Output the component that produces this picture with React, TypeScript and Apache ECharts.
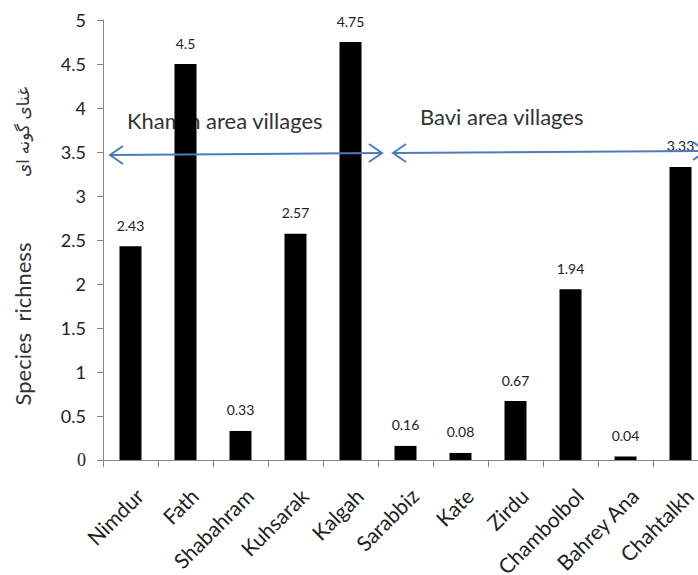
import React, { useEffect, useRef } from "react";
import * as echarts from "echarts";

const categories = ["Nimdur", "Fath", "Shabahram", "Kuhsarak", "Kalgah", "Sarabbiz", "Kate", "Zirdu", "Chambolbol", "Bahrey Ana", "Chahtalkh"];
const richness = [2.43, 4.5, 0.33, 2.57, 4.75, 0.16, 0.08, 0.67, 1.94, 0.04, 3.33];
const groupLabels = ["Khamin area villages", "Bavi area villages"];
const yTitle = "Species  richness";
const yTitleFa = "غنای گونه ای";

const FONT = "Lato, 'Open Sans', sans-serif";
const ARROW = "#4A7EBB";

function arrowHead(x: number, y: number, dir: number) {
  return {
    type: "polyline",
    z: 10,
    shape: { points: [[x + dir * 13, y - 9], [x, y], [x + dir * 13, y + 9]] },
    style: { stroke: ARROW, lineWidth: 2, fill: null },
  };
}

export default function App() {
  const ref = useRef<HTMLDivElement>(null);
  useEffect(() => {
    if (!ref.current) return;
    const chart = echarts.init(ref.current, undefined, { renderer: "svg" });
    chart.setOption({
      animation: false,
      grid: { left: 103, right: 12, top: 20, bottom: 115, containLabel: false, outerBoundsMode: "none" },
      xAxis: {
        type: "category",
        data: categories,
        axisLine: { lineStyle: { color: "#868686", width: 1 } },
        axisTick: { show: true, length: 7, alignWithLabel: false, lineStyle: { color: "#868686" } },
        axisLabel: { rotate: 45, fontSize: 21, lineHeight: 25, color: "#222", fontFamily: FONT, margin: 23, interval: 0, verticalAlign: "top" },
      },
      yAxis: {
        type: "value",
        min: 0,
        max: 5,
        interval: 0.5,
        splitLine: { show: false },
        axisLine: { show: true, lineStyle: { color: "#868686", width: 1 } },
        axisTick: { show: true, length: 6, lineStyle: { color: "#868686" } },
        axisLabel: {
          fontSize: 18,
          color: "#222",
          fontFamily: FONT,
          margin: 17,
          formatter: (v: number) => (v === 0 ? "{s|0}" : String(v)),
          rich: { s: { fontFamily: "'Liberation Serif', serif", fontSize: 18, color: "#222" } },
        },
      },
      series: [
        {
          type: "bar",
          data: richness,
          barWidth: "40%",
          itemStyle: { color: "#000" },
          z: 5,
          label: { show: true, position: "top", distance: 14, fontSize: 14, color: "#222", fontFamily: FONT },
        },
      ],
      graphic: [
        { type: "text", z: 0, zlevel: 0, x: 127, y: 109, style: { text: groupLabels[0], fontSize: 22, fill: "#333", fontFamily: FONT } },
        { type: "text", z: 0, x: 420, y: 105, style: { text: groupLabels[1], fontSize: 22, fill: "#333", fontFamily: FONT } },
        { type: "line", z: 10, shape: { x1: 110, y1: 155, x2: 382, y2: 153 }, style: { stroke: ARROW, lineWidth: 2 } },
        arrowHead(110, 155, 1),
        arrowHead(382, 153, -1),
        { type: "line", z: 10, shape: { x1: 393, y1: 153, x2: 710, y2: 151 }, style: { stroke: ARROW, lineWidth: 2 } },
        arrowHead(393, 153, 1),
        arrowHead(706, 151, -1),
        {
          type: "text", x: 22, y: 324, rotation: Math.PI / 2,
          style: { text: yTitle, fontSize: 22, fill: "#333", fontFamily: FONT, align: "center", verticalAlign: "middle" },
        },
        {
          type: "text", x: 22, y: 132, rotation: Math.PI / 2,
          style: { text: yTitleFa, fontSize: 17, fill: "#333", fontFamily: "'Noto Sans', 'DejaVu Sans', sans-serif", align: "center", verticalAlign: "middle" },
        },
      ],
    });
    return () => chart.dispose();
  }, []);
  return (
    <div style={{ position: "fixed", left: 0, top: 0, width: 698, height: 575, overflow: "hidden", background: "#fff" }}>
      <div ref={ref} style={{ width: 720, height: 575 }} />
    </div>
  );
}
